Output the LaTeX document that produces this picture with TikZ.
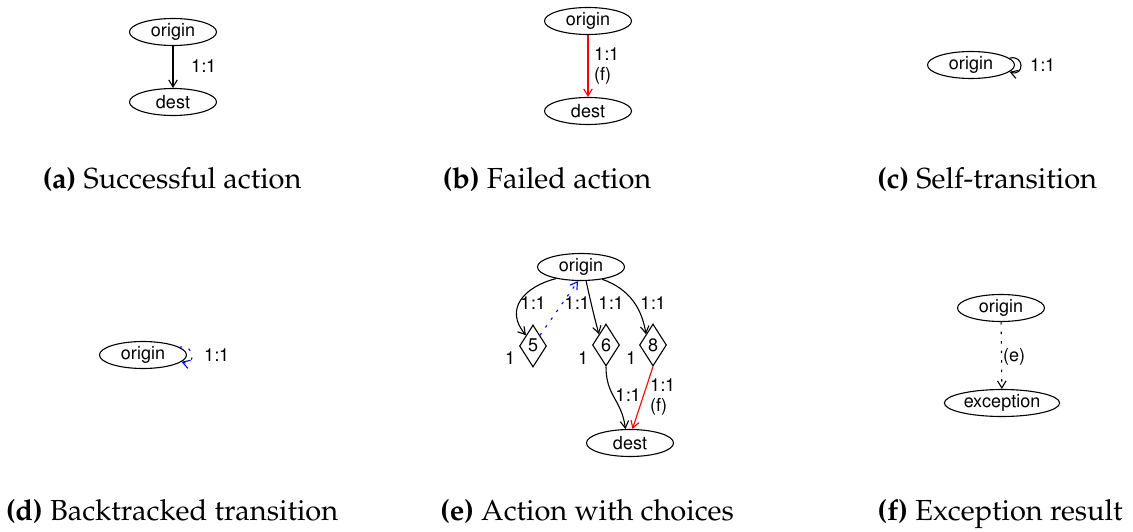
\documentclass[tikz,border=0pt]{standalone}
\usepackage[T1]{fontenc}
\usetikzlibrary{shapes.geometric,arrows.meta}
\newcommand{\nf}{\fontfamily{phv}\fontsize{18}{20}\selectfont}
\newcommand{\cf}{\fontfamily{ppl}\fontsize{29}{32}\selectfont}
\begin{document}
\begin{tikzpicture}[x=1pt,y=-1pt,
  st/.style={ellipse,draw,line width=1.1pt,minimum width=87pt,minimum height=27pt,inner xsep=2.5pt,inner ysep=0pt,font=\nf},
  ch/.style={diamond,draw,line width=1.1pt,minimum width=27pt,minimum height=42pt,inner sep=0pt,font=\nf},
  ar/.style={-{Straight Barb[length=7pt,width=8.5pt]},line width=1.1pt},
  dots/.style={dash pattern=on 2.5pt off 7pt},
  lbl/.style={font=\nf,inner sep=0pt,align=left},
  captxt/.style={font=\cf,inner sep=0pt,anchor=base}]
\useasboundingbox (0,0) rectangle (1133,532);
% (a)
\node[st] (a1) at (173,32) {origin};
\node[st] (a2) at (173,102) {dest};
\draw[ar] (a1) -- (a2);
\node[lbl,anchor=west] (al) at (191,66) {1:1};
\node[captxt] (ac) at (172,189) {\textbf{(a)} Successful action};
% (b)
\node[st] (b1) at (588,21) {origin};
\node[st] (b2) at (588,111) {dest};
\draw[ar,red] (b1) -- (b2);
\node[lbl,anchor=west] (bl) at (594,66) {1:1\\(f)};
\node[captxt] (bc) at (547,189) {\textbf{(b)} Failed action};
% (c)
\node[st] (c1) at (971,65) {origin};
\draw[ar] (c1.10) .. controls +(15,-4) and +(15,5) .. (c1.-10);
\node[lbl,anchor=west] (cl) at (1030,65) {1:1};
\node[captxt] (cc) at (987,189) {\textbf{(c)} Self-transition};
% (d)
\node[st] (d1) at (143,355) {origin};
\draw[ar,blue,dots] (d1.12) .. controls +(15,-4) and +(15,5) .. (d1.-10);
\node[lbl,anchor=west] (dl) at (204,355) {1:1};
\node[captxt] (dc) at (172,520) {\textbf{(d)} Backtracked transition};
% (e)
\node[st] (e0) at (581,267) {origin};
\node[ch] (e5) at (533,346) {5};
\node[ch] (e6) at (606,345) {6};
\node[ch] (e8) at (653,345) {8};
\node[st] (e9) at (630,443) {dest};
\draw[ar] (e0.205) .. controls +(-32,8) and +(-22,-26) .. (e5.north west);
\draw[ar,blue,dots] (e5.north east) -- (e0.258);
\draw[ar] (e0.290) .. controls +(4,18) and +(-5,-18) .. (e6.north west);
\draw[ar] (e0.330) .. controls +(28,10) and +(-4,-25) .. (e8.north west);
\draw[ar] (e6.south) .. controls +(0,30) and +(-4,-30) .. (e9.108);
\draw[ar,red] (e8.south) -- (e9.80);
\node[lbl] (l05) at (533,303) {1:1};
\node[lbl] (l0b) at (577,303) {1:1};
\node[lbl] (l06) at (611,303) {1:1};
\node[lbl] (l08) at (653,303) {1:1};
\node[lbl] (n5) at (510,358) {1};
\node[lbl] (n6) at (583,358) {1};
\node[lbl] (n8) at (631,358) {1};
\node[lbl] (l69) at (628,395) {1:1};
\node[lbl,anchor=west] (l89) at (650,397) {1:1\\(f)};
\node[captxt] (ec) at (587,520) {\textbf{(e)} Action with choices};
% (f)
\node[st] (f1) at (1001,308) {origin};
\node[st] (f2) at (1002,403) {exception};
\draw[ar,dots] (f1) -- (f2);
\node[lbl,anchor=west] (fl) at (1003,357) {(e)};
\node[captxt] (fc) at (1000,520) {\textbf{(f)} Exception result};
\end{tikzpicture}
\end{document}
